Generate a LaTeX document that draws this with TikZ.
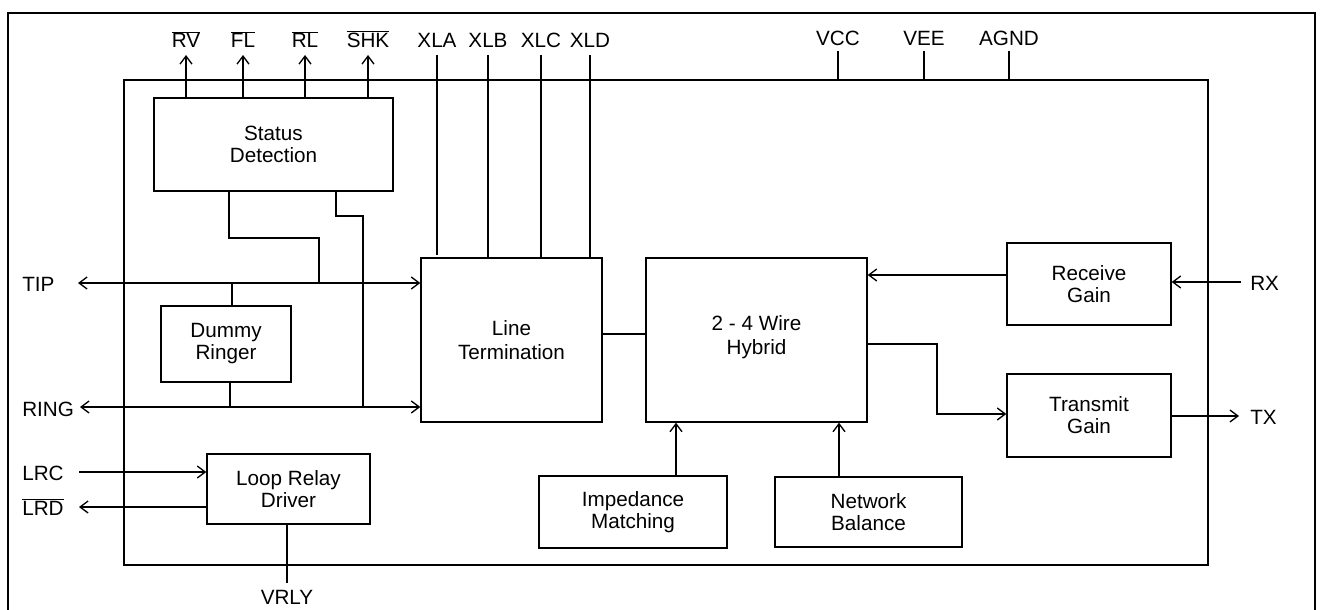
\documentclass[tikz,border=0pt]{standalone}
\usepackage{fontspec}
\setmainfont{Liberation Sans}
\usetikzlibrary{arrows.meta,fit}
\begin{document}
\begin{tikzpicture}[x=0.75pt,y=-0.75pt,
  every node/.style={font=\fontsize{15.5}{16.5}\selectfont},
  blk/.style={draw,line width=1pt,inner sep=0pt,align=center},
  lbl/.style={inner sep=0pt},
  wire/.style={line width=1pt},
  arr/.style={wire,-{Straight Barb[length=6pt,width=9pt,line width=1pt]}},
  arrb/.style={wire,{Straight Barb[length=6pt,width=9pt,line width=1pt]}-{Straight Barb[length=6pt,width=9pt,line width=1pt]}}]
\useasboundingbox (0,0) rectangle (1321,610);
\fill[white] (0,0) rectangle (1321,610);
% outer frame (bottom edge falls outside the picture)
\draw[line width=2.2pt] (8,13) rectangle (1315,620);
% chip outline
\node[draw,line width=1pt,inner sep=0pt,fit={(124,80) (1208,565)}] (chip) {};
% blocks
\node[blk,fit={(154,98) (393,191)}] (status) {};
\node[align=center] at (status.center) {Status\\Detection};
\node[blk,fit={(161,306) (291,382)}] (dummy) {};
\node[align=center] at (dummy.center) {Dummy\\Ringer};
\node[blk,fit={(421,258) (602,422)}] (lt) {};
\node[align=center,font=\fontsize{15.5}{18}\selectfont] at (lt.center) {Line\\Termination};
\node[blk,fit={(646,258) (867,422)}] (hyb) {};
\node[align=center,font=\fontsize{15.5}{18}\selectfont] at ([yshift=2pt]hyb.center) {2 - 4 Wire\\Hybrid};
\node[blk,fit={(1007,243) (1171,325)}] (rcv) {};
\node[align=center] at (rcv.center) {Receive\\Gain};
\node[blk,fit={(1007,374) (1171,457)}] (xmt) {};
\node[align=center] at (xmt.center) {Transmit\\Gain};
\node[blk,fit={(207,454) (370,524)}] (lrd) {};
\node[align=center] at (lrd.center) {Loop Relay\\Driver};
\node[blk,fit={(539,476) (727,548)}] (imp) {};
\node[align=center] at (imp.center) {Impedance\\Matching};
\node[blk,fit={(775,477) (962,547)}] (net) {};
\node[align=center] at (net.center) {Network\\Balance};
% top labels
\node[lbl,anchor=base] (rv) at (186,48) {$\overline{\hbox{RV}}$};
\node[lbl,anchor=base] (fl) at (243,48) {$\overline{\hbox{FL}}$};
\node[lbl,anchor=base] (rl) at (305,48) {$\overline{\hbox{RL}}$};
\node[lbl,anchor=base] (shk) at (368,48) {$\overline{\hbox{SHK}}$};
\node[lbl,anchor=base] (xla) at (437,48) {XLA};
\node[lbl,anchor=base] (xlb) at (488,48) {XLB};
\node[lbl,anchor=base] (xlc) at (541,48) {XLC};
\node[lbl,anchor=base] (xld) at (590,48) {XLD};
\node[lbl,anchor=base] (vcc) at (838,46) {VCC};
\node[lbl,anchor=base] (vee) at (924,46) {VEE};
\node[lbl,anchor=base] (agnd) at (1009,46) {AGND};
% side labels
\node[lbl,anchor=base west] (tip) at (22,291) {TIP};
\node[lbl,anchor=base west] (ring) at (22,416) {RING};
\node[lbl,anchor=base west] (lrc) at (22,480) {LRC};
\node[lbl,anchor=base west] (lrdl) at (22,515) {$\overline{\hbox{LRD}}$};
\node[lbl,anchor=base] (vrly) at (287,604) {VRLY};
\node[lbl,anchor=base west] (rx) at (1250,290) {RX};
\node[lbl,anchor=base west] (tx) at (1250,424) {TX};
% free ends
\coordinate (rvT) at (186,55);
\coordinate (flT) at (243,55);
\coordinate (rlT) at (305,55);
\coordinate (shkT) at (368,55);
\coordinate (xlaT) at (437,55);
\coordinate (xlbT) at (488,55);
\coordinate (xlcT) at (541,55);
\coordinate (xldT) at (590,55);
\coordinate (vccT) at (838,51);
\coordinate (veeT) at (924,51);
\coordinate (agndT) at (1009,51);
\coordinate (tipL) at (78,283);
\coordinate (ringL) at (80,407);
\coordinate (lrcL) at (79,472);
\coordinate (lrdL) at (79,507);
\coordinate (vrlyB) at (287,583);
\coordinate (rxR) at (1241,282);
\coordinate (txR) at (1239,416);
% status outputs
\draw[arr] (status.north -| rvT) -- (rvT);
\draw[arr] (status.north -| flT) -- (flT);
\draw[arr] (status.north -| rlT) -- (rlT);
\draw[arr] (status.north -| shkT) -- (shkT);
% XL lines
\draw[wire] (xlaT) -- (437,255);
\draw[wire] (xlbT) -- (xlbT |- lt.north);
\draw[wire] (xlcT) -- (xlcT |- lt.north);
\draw[wire] (xldT) -- (xldT |- lt.north);
% supplies
\draw[wire] (vccT) -- (vccT |- chip.north);
\draw[wire] (veeT) -- (veeT |- chip.north);
\draw[wire] (agndT) -- (agndT |- chip.north);
% tip / ring
\draw[arrb] (tipL) -- (tipL -| lt.west);
\draw[arrb] (ringL) -- (ringL -| lt.west);
\draw[wire] (status.south -| 229,0) |- (319,238) -- (319,283);
\draw[wire] (status.south -| 336,0) |- (363,216) -- (363,407);
\draw[wire] (232,283) -- (dummy.north -| 232,0);
\draw[wire] (dummy.south -| 230,0) -- (230,407);
% line termination to hybrid
\draw[wire] (lt.east |- 0,334) -- (hyb.west |- 0,334);
% receive / transmit
\draw[arr] (rcv.west |- 0,275) -- (hyb.east |- 0,275);
\draw[arr] (rxR) -- (rxR -| rcv.east);
\draw[arr] (hyb.east |- 0,344) -- (937,344) |- (xmt.west |- 0,414);
\draw[arr] (xmt.east |- txR) -- (txR);
% impedance / network
\draw[arr] (imp.north -| 676,0) -- (hyb.south -| 676,0);
\draw[arr] (net.north -| 839,0) -- (hyb.south -| 839,0);
% loop relay driver
\draw[arr] (lrcL) -- (lrcL -| lrd.west);
\draw[arr] (lrd.west |- lrdL) -- (lrdL);
\draw[wire] (lrd.south -| vrlyB) -- (vrlyB);
\end{tikzpicture}
\end{document}
